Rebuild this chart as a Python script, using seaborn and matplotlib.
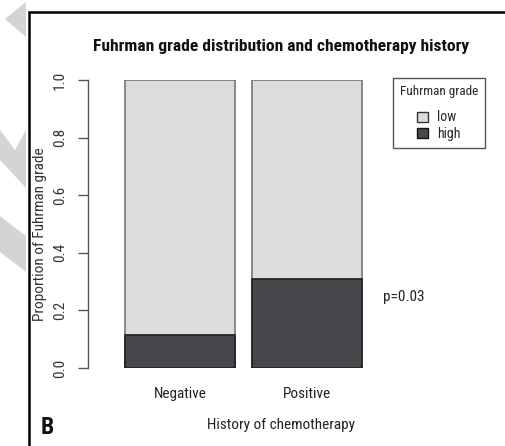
import matplotlib
matplotlib.use("Agg")
import matplotlib.pyplot as plt
import seaborn as sns
import pandas as pd
from matplotlib.patches import Patch, Rectangle, Polygon

# data
groups = ["Negative", "Positive"]
high_prop = [0.115, 0.31]
total_prop = [1.0, 1.0]
grade_labels = ["low", "high"]
p_text = "p=0.03"

light = "#dcdcdd"
dark = "#47484c"

sns.set_style("white")
plt.rcParams['font.family'] = ['Roboto Condensed', 'Archivo Narrow', 'Liberation Sans', 'DejaVu Sans']

W, H = 505, 446
fig = plt.figure(figsize=(W / 100, H / 100), dpi=100)

def px(x, y):
    return x / W, 1 - y / H

# axes placed so the y axis line sits at x=88, y from 80 (1.0) to 368 (0.0)
ax = fig.add_axes([88 / W, (H - 368) / H, (375 - 88) / W, (368 - 80) / H])

df = pd.DataFrame({"group": groups, "total": total_prop, "high": high_prop})
sns.barplot(data=df, x="group", y="total", color=light, width=0.866,
            edgecolor="#77777a", linewidth=1.2, saturation=1, ax=ax)
sns.barplot(data=df, x="group", y="high", color=dark, width=0.866,
            edgecolor="#1e1e20", linewidth=1.2, saturation=1, ax=ax)

ax.set_xlim(-0.724, 1.535)
ax.set_ylim(0, 1)
for s in ["top", "right", "bottom"]:
    ax.spines[s].set_visible(False)
ax.spines["left"].set_color("#555555")
ax.spines["left"].set_linewidth(1.0)
ax.set_yticks([0, 0.2, 0.4, 0.6, 0.8, 1.0])
ax.set_yticklabels(["0.0", "0.2", "0.4", "0.6", "0.8", "1.0"], rotation=90,
                   va="center", fontsize=11, color="#333333")
ax.tick_params(axis="y", length=7, width=1.0, color="#555555", pad=8, left=True)
ax.tick_params(axis="x", length=0, pad=14, labelsize=11, labelcolor="#222222")
ax.set_xlabel("History of chemotherapy", fontsize=11, color="#222222")
ax.set_ylabel("Proportion of Fuhrman grade", fontsize=11, color="#333333")
ax.xaxis.set_label_coords((281 - 88) / (375 - 88), -(418 - 368) / (368 - 80))
ax.yaxis.set_label_coords(-(88 - 47) / (375 - 88), (368 - 234) / (368 - 80))
ax.patch.set_alpha(0)

fig.text(*px(281, 47), "Fuhrman grade distribution and chemotherapy history",
         ha="center", va="center", fontsize=12.6, fontweight="bold", color="#111111")
fig.text(*px(383, 297), p_text, ha="left", va="center", fontsize=11, color="#222222")

handles = [Patch(facecolor=light, edgecolor="#333333"),
           Patch(facecolor=dark, edgecolor="#111111")]
leg = fig.legend(handles, grade_labels, title="Fuhrman grade", loc="upper left",
                 bbox_to_anchor=px(393, 78), fontsize=10, title_fontsize=9.5,
                 handlelength=0.75, handleheight=0.75, handletextpad=0.7,
                 labelspacing=0.2, borderpad=0.5, borderaxespad=0,
                 fancybox=False, framealpha=1)
leg.get_frame().set_edgecolor("#555555")
leg.get_frame().set_linewidth(1.0)
leg._legend_box.align = "center"
leg._legend_box.sep = 9

# page frame and panel letter
fig.add_artist(Rectangle(px(29, 500), (W + 20) / W, (500 - 12) / H,
                         transform=fig.transFigure, fill=False,
                         edgecolor="black", linewidth=1.8))
fig.text(*px(41, 428), "B", ha="left", va="center", fontsize=17,
         fontweight="bold", color="#111111")

# grey margin marks of the journal page
grey = "#d3d4d6"
for pts in [
    [(26, 2), (5, 19), (26, 37)],
    [(0, 130), (15, 150), (26, 130), (26, 188), (0, 160)],
    [(0, 216), (26, 236), (26, 272), (0, 252)],
]:
    fig.add_artist(Polygon([px(x, y) for x, y in pts], closed=True,
                           transform=fig.transFigure, facecolor=grey,
                           edgecolor="none", zorder=0))

fig.savefig("out.png", dpi=100)
